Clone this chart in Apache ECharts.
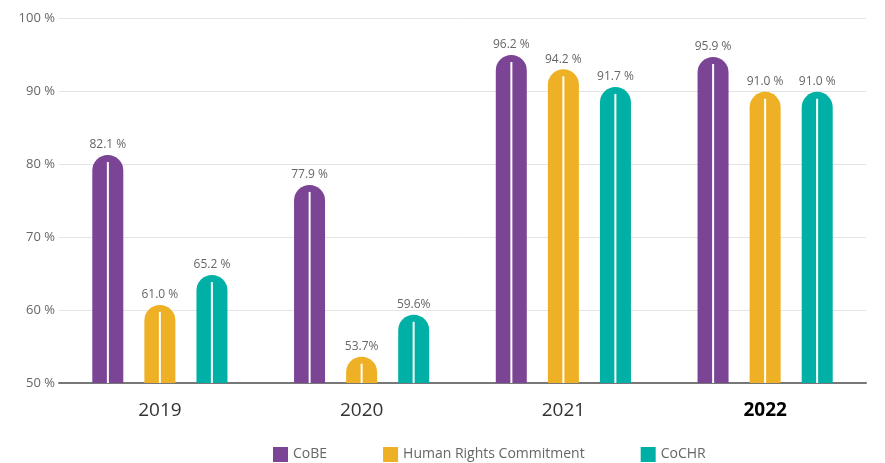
<!DOCTYPE html>
<html>
<head>
<meta charset="utf-8">
<script src="https://cdn.jsdelivr.net/npm/echarts@6/dist/echarts.min.js"></script>
<style>
  html, body { margin: 0; padding: 0; background: #fff; }
  #chart { width: 885px; height: 463px; }
</style>
</head>
<body>
<div id="chart"></div>
<script>
// data
var years = ['2019', '2020', '2021', '2022'];
var cobe = [82.1, 77.9, 96.2, 95.9];
var humanRights = [61.0, 53.7, 94.2, 91.0];
var cochr = [65.2, 59.6, 91.7, 91.0];
var labelText = [
  ['82.1 %', '77.9 %', '96.2 %', '95.9 %'],
  ['61.0 %', '53.7%', '94.2 %', '91.0 %'],
  ['65.2 %', '59.6%', '91.7 %', '91.0 %']
];
var seriesNames = ['CoBE', 'Human Rights Commitment', 'CoCHR'];
var colors = ['#7b4494', '#eeb024', '#00afa5'];

var FONT = '"Open Sans", Lato, sans-serif';
var BAR_W = 31, BAR_STEP = 52;

var chart = echarts.init(document.getElementById('chart'));

function barSeries(k, values) {
  return {
    name: seriesNames[k],
    type: 'bar',
    yAxisIndex: 1,
    barWidth: BAR_W,
    barGap: '68%',
    data: values,
    itemStyle: { color: colors[k], borderRadius: [15.5, 15.5, 0, 0] },
    label: {
      show: true,
      position: 'top',
      distance: 4,
      color: '#666',
      fontSize: 12,
      fontFamily: FONT,
      formatter: function (p) { return labelText[k][p.dataIndex]; }
    },
    z: 2
  };
}

// thin white line down the middle of each bar
function lineSeries(k, values) {
  return {
    type: 'custom',
    yAxisIndex: 1,
    silent: true,
    z: 3,
    data: values.map(function (v, i) { return [i, v]; }),
    renderItem: function (params, api) {
      var top = api.coord([api.value(0), api.value(1)]);
      var base = api.coord([api.value(0), 50]);
      var x = top[0] + (k - 1) * BAR_STEP;
      return {
        type: 'line',
        shape: { x1: x, y1: top[1] + 7, x2: x, y2: base[1] },
        style: { stroke: '#fff', lineWidth: 2 }
      };
    }
  };
}

var option = {
  animation: false,
  color: colors,
  grid: { left: 59, right: 19, top: 18, bottom: 80 },
  legend: {
    data: seriesNames,
    top: 442,
    left: 268,
    icon: 'rect',
    itemWidth: 15,
    itemHeight: 15,
    itemGap: 56,
    textStyle: { color: '#666', fontSize: 14, fontFamily: FONT }
  },
  xAxis: {
    type: 'category',
    data: years,
    axisLine: { lineStyle: { color: '#777', width: 2 } },
    axisTick: { show: false },
    axisLabel: {
      margin: 18,
      fontSize: 19,
      fontFamily: FONT,
      color: '#333',
      formatter: function (v) { return v === '2022' ? '{b|' + v + '}' : v; },
      rich: { b: { fontSize: 19, fontWeight: 'bold', color: '#000', fontFamily: FONT } }
    }
  },
  yAxis: [
    {
      type: 'value',
      min: 50,
      max: 100,
      interval: 10,
      axisLine: { show: false },
      axisTick: { show: false },
      splitLine: { lineStyle: { color: '#e4e4e4' } },
      axisLabel: {
        margin: 4,
        color: '#666',
        fontSize: 13,
        fontFamily: FONT,
        formatter: '{value} %'
      }
    },
    {
      type: 'value',
      min: 50,
      max: 101.4,
      show: false
    }
  ],
  series: [
    barSeries(0, cobe),
    barSeries(1, humanRights),
    barSeries(2, cochr),
    lineSeries(0, cobe),
    lineSeries(1, humanRights),
    lineSeries(2, cochr)
  ]
};

chart.setOption(option);
</script>
</body>
</html>
